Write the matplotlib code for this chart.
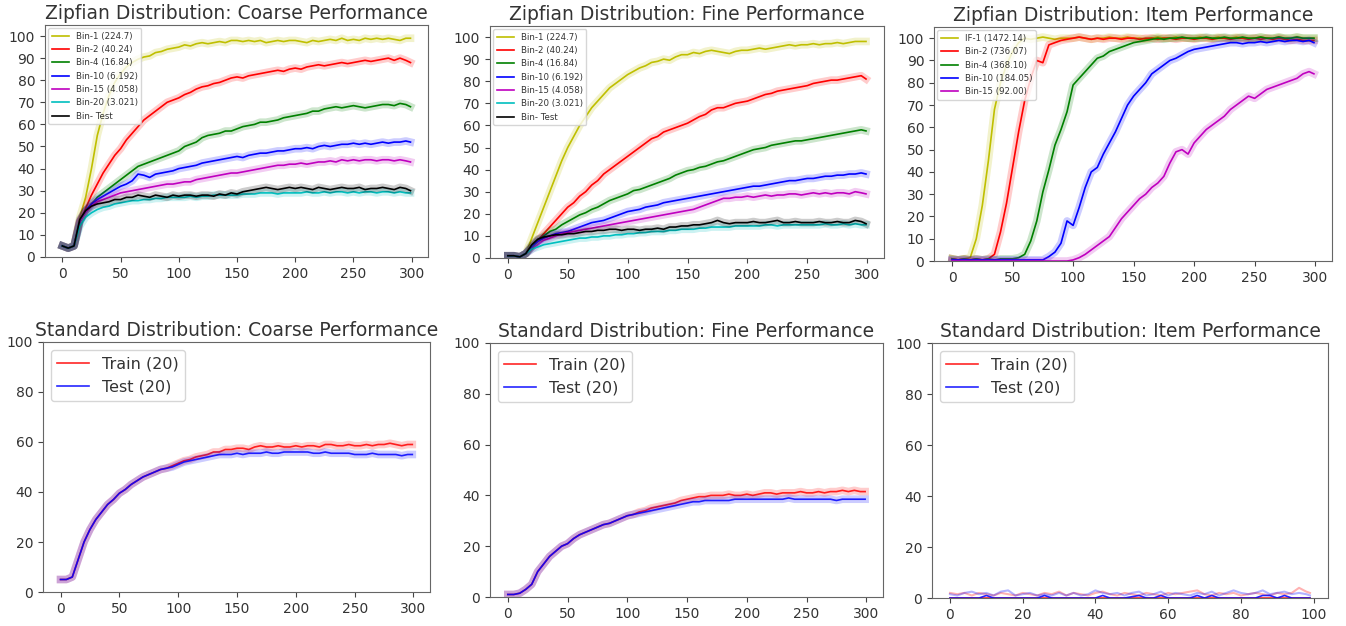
import matplotlib
matplotlib.use('Agg')
import matplotlib.pyplot as plt

# epochs (every 5 epochs, last one 299)
epochs = list(range(0, 300, 5)) + [299]

# ---- Zipfian: coarse performance
zc_bin1 = [5, 4, 5, 18, 27, 40, 55, 65, 73, 79,
           83, 86, 88, 89.5, 90.5, 91, 92.5, 93, 94, 94.5,
           95, 96, 95.5, 96.5, 97, 96.5, 97, 97.5, 97, 98,
           98, 97.5, 98, 97.5, 98, 97, 97.5, 98, 97.5, 98,
           98, 97.5, 97, 98, 97.5, 98, 98.5, 98, 99, 98,
           98.5, 98, 99, 98.5, 99, 98.5, 99, 98.5, 98, 99, 99]
zc_bin2 = [5, 4, 5, 16, 22, 28, 33, 38, 42, 46,
           49, 53, 56, 59, 62, 64, 66, 68, 70, 71,
           72, 73.5, 74.5, 76, 77, 77.5, 78.5, 79, 80, 81,
           81.5, 81, 82, 82.5, 83, 83.5, 84, 84.5, 84, 85,
           85.5, 85, 86, 86.5, 87, 86.5, 87, 87.5, 88, 87.5,
           88, 88.5, 89, 88.5, 89, 89.5, 90, 89, 90, 89, 88]
zc_bin4 = [5, 4, 5, 16, 21, 24, 27, 29, 31, 33,
           35, 37, 39, 41, 42, 43, 44, 45, 46, 47,
           48, 50, 51, 52, 54, 55, 55.5, 56, 57, 57,
           58, 59, 59.5, 60, 61, 61, 61.5, 62, 63, 63.5,
           64, 64.5, 65, 66, 66, 67, 67.5, 68, 67.5, 68,
           68.5, 68, 67.5, 68, 68.5, 69, 69, 68.5, 69.5, 69, 68]
zc_bin10 = [5, 4, 5, 16, 21, 24, 26, 27.5, 29, 30.5,
            32, 33, 34.5, 37.5, 37, 36, 37.5, 38, 38.5, 39,
            40, 40.5, 41, 41.5, 42.5, 43, 43.5, 44, 44.5, 45,
            45.5, 45, 46, 46.5, 47, 47, 47.5, 48, 48, 48.5,
            49, 49, 49.5, 49, 50, 50.5, 50, 50.5, 51, 51,
            51.5, 51, 51.5, 51, 51.5, 52, 51.5, 52, 52, 52.5, 52]
zc_bin15 = [5, 4, 5, 16, 20, 23, 25, 26, 27, 28,
            29, 29.5, 30, 30.5, 31, 31.5, 32, 32.5, 33, 33,
            33.5, 34, 34, 35, 35.5, 36, 36.5, 37, 37.5, 38,
            38, 38.5, 39, 39.5, 40, 40.5, 41, 41.5, 41.5, 42,
            42, 42.5, 42, 42.5, 43, 43, 43.5, 43, 44, 43.5,
            44, 43.5, 44, 44, 43.5, 44, 44, 43.5, 44, 43.5, 43]
zc_bin20 = [5, 4, 5, 14, 18, 20, 21.5, 22.5, 23, 24,
            24.5, 25, 25.5, 25.5, 26, 26, 26.5, 26.5, 27, 27,
            27, 27, 27.5, 27, 27.5, 27.5, 28, 28, 28, 28,
            28, 28.5, 28.5, 28.5, 29, 29, 29, 28.5, 29, 29,
            29, 29, 29.5, 29, 29, 29.5, 29, 29.5, 29.5, 29,
            29.5, 29, 29.5, 29.5, 29, 29.5, 29.5, 29, 29.5, 29, 29]
zc_test = [5, 4, 5, 17, 21, 23, 24, 24.5, 25, 26,
           26, 27, 27, 28, 27.5, 27, 28, 27.5, 27, 28,
           27.5, 28, 28, 27.5, 28, 28, 27.5, 28.5, 28, 29,
           28.5, 29.5, 30, 30.5, 31, 31.5, 31, 30.5, 31, 31.5,
           31, 31.5, 31, 30.5, 31.5, 31, 30.5, 31, 31.5, 31,
           31, 31.5, 30.5, 31, 31, 31.5, 31, 30.5, 31.5, 31, 30]

# ---- Zipfian: fine performance
zf_bin1 = [1, 1, 0.5, 2, 9, 16, 23, 30, 37, 44,
           50, 55, 60, 64, 68, 71, 74, 77, 79, 81,
           83, 84.5, 86, 87, 88.5, 89, 90, 89.5, 91, 92,
           92, 93, 92.5, 93.5, 94, 93.5, 93, 92.5, 93.5, 94,
           94, 94.5, 95, 94.5, 95, 95.5, 96, 96.5, 96, 96.5,
           96.5, 97, 96.5, 97, 97, 97.5, 97, 97.5, 98, 98, 98]
zf_bin2 = [1, 1, 0.5, 2, 5, 8, 11, 14, 17, 20,
           23, 25, 28, 30, 33, 35, 38, 40, 42, 44,
           46, 48, 50, 52, 54, 55, 57, 58, 59, 60,
           61, 62.5, 64, 65, 67, 68, 68, 69, 70, 70.5,
           71, 72, 73, 74, 74.5, 75.5, 76, 76.5, 77, 77.5,
           78, 79, 79.5, 80, 80.5, 80.5, 81, 81.5, 82, 82.5, 81]
zf_bin4 = [1, 1, 0.5, 2, 5, 8, 10, 12, 13, 15,
           16.5, 18, 19.5, 20.5, 22, 23, 24.5, 26, 27, 28,
           29, 30.5, 31, 32, 33, 34, 35, 36, 37.5, 38.5,
           39.5, 40, 41, 41.5, 42.5, 43.5, 44, 45, 46, 47,
           48, 49, 49.5, 50, 51, 51.5, 52, 52.5, 53, 53,
           53.5, 54, 54.5, 55, 55.5, 56, 56.5, 57, 57.5, 58, 57.5]
zf_bin10 = [1, 1, 0.5, 2, 5, 7.5, 9, 10, 11, 11.5,
            12, 13, 14, 15, 16, 16.5, 17, 18, 19, 20,
            21, 21.5, 22, 23, 23.5, 24, 25, 25.5, 26, 26.5,
            27, 27.5, 28, 28.5, 29, 29.5, 30, 30.5, 31, 31.5,
            32, 32.5, 32.5, 33, 33.5, 34, 34.5, 35, 35, 35.5,
            36, 36, 36.5, 37, 37, 37.5, 37.5, 38, 38, 38.5, 38]
zf_bin15 = [1, 1, 0.5, 2, 4, 6, 8, 9, 10, 11,
            11.5, 12, 12.5, 13, 13.5, 14, 14.5, 15, 15.5, 16,
            16.5, 17, 17.5, 18, 18.5, 19, 19.5, 20, 20.5, 21,
            21.5, 22, 23, 24, 25, 26, 27, 27, 27.5, 27.5,
            28, 27.5, 28, 28.5, 28, 28.5, 28.5, 29, 29, 28.5,
            29, 29.5, 29, 29.5, 29, 29.5, 29.5, 29, 30, 29.5, 29]
zf_bin20 = [1, 1, 0.5, 2, 4, 5, 6, 6.5, 7, 7.5,
            8, 8.5, 9, 9, 9.5, 9.5, 10, 10, 10.5, 10.5,
            11, 11, 11.5, 11.5, 12, 12, 12, 12.5, 12.5, 13,
            13, 13, 13.5, 13.5, 14, 14, 14, 14, 14.5, 14.5,
            14.5, 14.5, 14.5, 15, 15, 14.5, 15, 15, 15, 15,
            15, 15, 15, 15.5, 15, 15, 15.5, 15, 15.5, 15, 15]
zf_test = [1, 1, 0.5, 2, 6, 8.5, 9.5, 10, 10.5, 10.5,
           11, 11, 11.5, 12, 12, 12.5, 12.5, 13, 13, 12.5,
           13, 13, 12.5, 13, 13, 13.5, 13, 14, 14, 14.5,
           14.5, 15, 15, 15.5, 16, 17, 16, 15.5, 16, 16,
           16, 16.5, 16, 16, 16.5, 17, 16, 16, 16.5, 16,
           16, 16, 16.5, 16, 16, 16.5, 16, 16, 17, 16.5, 15.5]

# ---- Zipfian: item performance
zi_if1 = [1, 0.5, 1, 1.5, 10, 25, 45, 68, 80, 88,
          94, 98, 100, 99.5, 100, 100.5, 100, 99.5, 100, 100,
          100, 100.5, 100, 99.5, 100, 100, 100.5, 100, 100, 100.5,
          100, 100, 99.5, 100, 100.5, 100, 100, 100.5, 100, 100,
          100, 100.5, 100, 100, 100.5, 100, 100, 100.5, 100, 100,
          100, 100.5, 100, 100, 100.5, 100, 100, 100.5, 100, 100, 100]
zi_bin2 = [1, 0.5, 1, 0.5, 1, 0.5, 1, 3, 13, 26,
           42, 58, 72, 82, 90, 89, 97, 98, 99, 99.5,
           100, 100.5, 100, 99.5, 100, 99.5, 100, 100, 99.5, 100,
           100, 99.5, 100, 100, 99.5, 100, 100, 99.5, 100, 100,
           99.5, 100, 100, 99.5, 100, 100, 99.5, 100, 100, 99.5,
           100, 99.5, 100, 99.5, 100, 99.5, 99, 99.5, 99, 99, 99]
zi_bin4 = [1, 0.5, 1, 0.5, 1, 0.5, 1, 0.5, 1, 1,
           1, 1.5, 3, 9, 18, 31, 41, 52, 59, 67,
           79, 82, 85, 88, 91, 92, 94, 95, 96, 97,
           98, 98.5, 99, 99.5, 100, 99.5, 100, 100, 100.5, 100,
           100, 100, 100.5, 100, 100, 100.5, 100, 100, 100.5, 100,
           100, 100.5, 100, 100, 100.5, 100, 100, 100.5, 100, 100, 100]
zi_bin10 = [0.5, 0.5, 0.5, 0.5, 0.5, 0.5, 0.5, 0.5, 0.5, 0.5,
            0.5, 0.5, 0.5, 0.5, 0.5, 0.5, 2, 4, 8, 18,
            16, 24, 33, 40, 42, 48, 53, 58, 64, 70,
            74, 77, 80, 84, 86, 88, 90, 91, 92.5, 94,
            95, 95.5, 96, 96.5, 97, 97.5, 98, 98, 97.5, 98,
            98, 98.5, 98, 98.5, 99, 98.5, 99, 99, 98.5, 99, 98]
zi_bin15 = [0, 0, 0, 0, 0, 0, 0, 0, 0, 0,
            0, 0, 0, 0, 0, 0, 0, 0, 0, 0,
            0.5, 1.5, 3, 5, 7, 9, 11, 15, 19, 22,
            25, 28, 30, 33, 35, 38, 44, 49, 50, 48,
            53, 56, 59, 61, 63, 65, 68, 70, 72, 74,
            73, 75, 77, 78, 79, 80, 81, 82, 84, 85, 84]

# ---- Standard distribution (train / test)
sc_train = [5, 5, 6, 13, 20, 25, 29, 32, 35, 37,
            39.5, 41, 43, 44.5, 46, 47, 48, 49, 49.5, 50.5,
            51.5, 52.5, 53, 54, 54.5, 55, 56, 56, 57, 57,
            57.5, 57.5, 57, 58, 58.5, 58, 58, 58.5, 58, 58,
            58.5, 58, 58.5, 58.5, 58, 59, 59, 58.5, 58.5, 59,
            58.5, 58.5, 59, 58.5, 59, 59, 59.5, 59, 58.5, 59, 59]
sc_test = [5, 5, 6, 13, 20, 25, 29, 32, 35, 37,
           39.5, 41, 43, 44.5, 46, 47, 48, 49, 49.5, 50,
           51, 52, 52.5, 53, 53.5, 54, 54.5, 55, 55, 55,
           55.5, 55, 55.5, 55.5, 55.5, 56, 55.5, 55.5, 56, 56,
           56, 56, 56, 55.5, 55.5, 56, 55.5, 55.5, 55.5, 55.5,
           55, 55, 55, 55.5, 55, 55, 55, 55, 54.5, 55, 55]
sf_train = [1, 1, 1.5, 3, 5, 10, 13, 16, 18, 20,
            21, 23, 24.5, 25.5, 26.5, 27.5, 28.5, 29, 30, 31,
            32, 32.5, 33.5, 34, 35, 35.5, 36, 36.5, 37, 38,
            38.5, 39, 39.5, 39.5, 40, 40, 40, 40.5, 40, 40,
            40.5, 40, 40.5, 41, 41, 40.5, 41, 41, 41, 41.5,
            41, 41, 41.5, 41, 41.5, 41.5, 42, 41.5, 42, 41.5, 41.5]
sf_test = [1, 1, 1.5, 3, 5, 10, 13, 16, 18, 20,
           21, 23, 24.5, 25.5, 26.5, 27.5, 28.5, 29, 30, 31,
           32, 32.5, 33, 33.5, 34, 34.5, 35, 35.5, 36, 36.5,
           37, 37.5, 37.5, 38, 38, 38, 38, 38, 38.5, 38.5,
           38.5, 38.5, 38.5, 38.5, 38.5, 38.5, 38.5, 39, 38.5, 38.5,
           38.5, 38.5, 38.5, 38.5, 38.5, 38, 38.5, 38.5, 38.5, 38.5, 38.5]

# standard item: only 100 epochs
item_epochs = list(range(0, 100, 2)) + [99]
si_train = [0, 0, 0, 0, 0, 0, 0, 0, 0, 0,
            0, 0, 0, 0, 0, 0, 0, 0, 0, 0,
            0, 0, 0, 0, 0, 0, 0, 0, 0, 0,
            0, 0, 0, 0, 0, 0, 0, 0, 0, 0,
            0, 0, 0, 0, 0, 0, 0, 0, 0, 0, 0]
si_test = [0, 0, 0, 0, 0, 1, 0, 0, 0, 0,
           0, 0, 0, 1, 0, 0, 0, 0, 0, 0,
           0, 1, 0, 0, 0, 0.5, 1, 0, 0, 1,
           0, 0, 0, 0, 1, 0, 1, 0, 0, 0,
           0, 0, 0, 1, 1, 0, 1, 0, 0, 0, 0]
si_train_raw = [2, 1.5, 2, 1, 2, 1.5, 1, 2, 1.5, 1,
                2, 1.5, 1, 2, 1.5, 2.5, 1, 2, 1.5, 1,
                2, 2.5, 1.5, 1, 2, 1.5, 1, 2, 1.5, 1,
                2, 1.5, 2, 2.5, 3, 1.5, 1, 2, 1.5, 2,
                1, 1.5, 2, 1.5, 1, 2, 1.5, 2, 4, 2.5, 2]
si_test_raw = [1.5, 1, 2, 2.5, 1.5, 2, 1, 2.5, 3, 1,
               1.5, 2, 1, 1.5, 1, 2, 1, 2, 1, 1.5,
               3, 2, 1.5, 2, 1, 2, 2.5, 1, 1.5, 2.5,
               1, 2, 1.5, 1, 2, 1.5, 2.5, 1, 2, 3,
               2, 1.5, 2, 3, 1.5, 2, 2.5, 1.5, 2, 1.5, 1]

zipf_labels = ['Bin-1 (224.7)', 'Bin-2 (40.24)', 'Bin-4 (16.84)', 'Bin-10 (6.192)',
               'Bin-15 (4.058)', 'Bin-20 (3.021)', 'Bin- Test']
item_labels = ['IF-1 (1472.14)', 'Bin-2 (736.07)', 'Bin-4 (368.10)',
               'Bin-10 (184.05)', 'Bin-15 (92.00)']
zipf_colors = ['y', 'r', 'g', 'b', 'm', 'c', 'k']

plt.rcParams['font.family'] = 'DejaVu Sans'
plt.rcParams['text.color'] = '#333333'
plt.rcParams['xtick.color'] = '#444444'
plt.rcParams['ytick.color'] = '#444444'
plt.rcParams['xtick.labelcolor'] = '#333333'
plt.rcParams['ytick.labelcolor'] = '#333333'
plt.rcParams['axes.edgecolor'] = '#666666'
plt.rcParams['xtick.labelsize'] = 10
plt.rcParams['ytick.labelsize'] = 10

fig = plt.figure(figsize=(13.46, 6.26), dpi=100)

rects = [
    [0.0334, 0.5895, 0.2845, 0.3706],
    [0.3640, 0.5879, 0.2927, 0.3706],
    [0.6939, 0.5830, 0.2957, 0.3738],
    [0.0319, 0.0543, 0.2875, 0.3994],
    [0.3640, 0.0463, 0.2920, 0.4058],
    [0.6924, 0.0447, 0.2942, 0.4073],
]
axs = [fig.add_axes(r) for r in rects]


def draw(ax, x, y, color, label, raw=None, lw=1.2, alpha=1.0):
    # light band (raw runs) then the mean line
    if raw is None:
        ax.plot(x, y, color=color, lw=5.5, alpha=0.2, solid_joinstyle='round')
    else:
        ax.plot(x, raw, color=color, lw=1.5, alpha=0.3)
    ax.plot(x, y, color=color, lw=lw, alpha=alpha, label=label)


# top row
coarse = [zc_bin1, zc_bin2, zc_bin4, zc_bin10, zc_bin15, zc_bin20, zc_test]
fine = [zf_bin1, zf_bin2, zf_bin4, zf_bin10, zf_bin15, zf_bin20, zf_test]
item = [zi_if1, zi_bin2, zi_bin4, zi_bin10, zi_bin15]

for series, lab, col in zip(coarse, zipf_labels, zipf_colors):
    draw(axs[0], epochs, series, col, lab)
for series, lab, col in zip(fine, zipf_labels, zipf_colors):
    draw(axs[1], epochs, series, col, lab)
for series, lab, col in zip(item, item_labels, zipf_colors):
    draw(axs[2], epochs, series, col, lab)

titles_top = ['Zipfian Distribution: Coarse Performance',
              'Zipfian Distribution: Fine Performance',
              'Zipfian Distribution: Item Performance']
for ax, t in zip(axs[:3], titles_top):
    ax.set_title(t, fontsize=13.5, pad=4)
    ax.set_ylim(0, 105)
    ax.set_yticks(range(0, 101, 10))
    ax.set_xticks(range(0, 301, 50))
    ax.legend(loc='upper left', fontsize=6.2, borderaxespad=0.4)

# bottom row
draw(axs[3], epochs, sc_train, 'r', 'Train (20)', alpha=0.85)
draw(axs[3], epochs, sc_test, 'b', 'Test (20)', alpha=0.85)
draw(axs[4], epochs, sf_train, 'r', 'Train (20)', alpha=0.85)
draw(axs[4], epochs, sf_test, 'b', 'Test (20)', alpha=0.85)
draw(axs[5], item_epochs, si_train, 'r', 'Train (20)', raw=si_train_raw, alpha=0.85)
draw(axs[5], item_epochs, si_test, 'b', 'Test (20)', raw=si_test_raw, alpha=0.85)

titles_bot = ['Standard Distribution: Coarse Performance',
              'Standard Distribution: Fine Performance',
              'Standard Distribution: Item Performance']
for ax, t in zip(axs[3:], titles_bot):
    ax.set_title(t, fontsize=13.5, pad=4)
    ax.set_ylim(0, 100)
    ax.set_yticks(range(0, 101, 20))
    ax.legend(loc='upper left', fontsize=11.5)
axs[3].set_xticks(range(0, 301, 50))
axs[4].set_xticks(range(0, 301, 50))
axs[5].set_xticks(range(0, 101, 20))

fig.savefig('out.png', dpi=100)
